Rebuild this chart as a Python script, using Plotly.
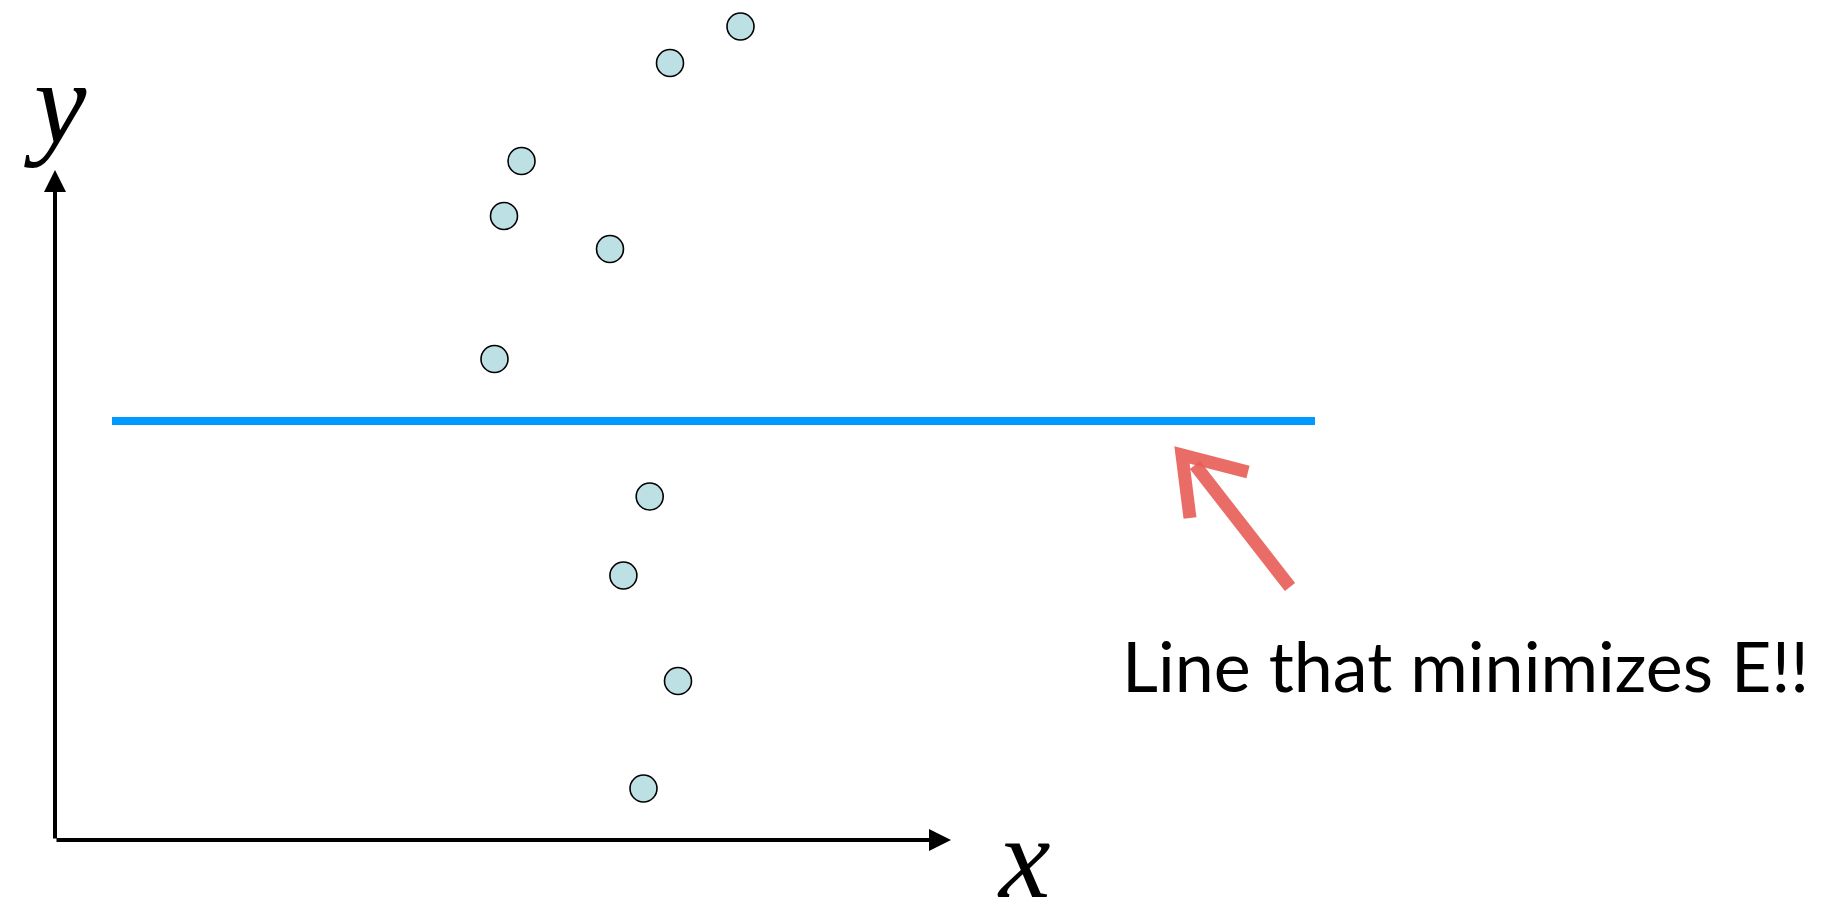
import plotly.graph_objects as go

# data points (arbitrary units, origin at the axes corner)
pts_x = [6.855, 6.15, 4.665, 4.49, 5.55, 4.395, 5.947, 5.684, 6.23, 5.885]
pts_y = [8.135, 7.77, 6.79, 6.24, 5.91, 4.81, 3.435, 2.645, 1.59, 0.515]

# the fitted horizontal line
line_x = [0.57, 12.6]
line_y = [4.19, 4.19]

# axis extents
x_axis_len = 8.96
y_axis_len = 6.7

# hand drawn red arrow (head and shaft)
head_x = [11.35, 11.27, 11.93]
head_y = [3.22, 3.85, 3.68]
shaft_x = [12.35, 11.40]
shaft_y = [2.53, 3.75]

label_text = "Line that minimizes E!!"

fig = go.Figure()

fig.add_trace(go.Scatter(x=line_x, y=line_y, mode="lines",
                         line=dict(color="#0099FF", width=8)))

for hx, hy in [(head_x, head_y), (shaft_x, shaft_y)]:
    fig.add_trace(go.Scatter(x=hx, y=hy, mode="lines",
                             line=dict(color="rgba(232,92,86,0.9)", width=13)))

fig.add_trace(go.Scatter(x=pts_x, y=pts_y, mode="markers",
                         marker=dict(size=27, color="#BCE0E3",
                                     line=dict(color="black", width=1.6))))

# axes drawn as arrows
fig.add_annotation(x=x_axis_len, y=0, ax=0, ay=0, axref="x", ayref="y",
                   xref="x", yref="y", text="", showarrow=True,
                   arrowhead=2, arrowsize=1.1, arrowwidth=4, arrowcolor="black")
fig.add_annotation(x=0, y=y_axis_len, ax=0, ay=0, axref="x", ayref="y",
                   xref="x", yref="y", text="", showarrow=True,
                   arrowhead=2, arrowsize=1.1, arrowwidth=4, arrowcolor="black")

fig.add_annotation(x=0, y=7.37, text="<i>y</i>", showarrow=False,
                   font=dict(family="Liberation Serif", size=118, color="black"))
fig.add_annotation(x=9.69, y=-0.18, text="<i>x</i>", showarrow=False,
                   font=dict(family="Liberation Serif", size=116, color="black"))
fig.add_annotation(x=10.65, y=1.75, text=label_text, showarrow=False,
                   xanchor="left",
                   font=dict(family="Lato", size=70, color="black"))

# page body has an 8px margin, so the figure is a little smaller
fig.update_xaxes(range=[-0.47, 17.68], visible=False)
fig.update_yaxes(range=[-0.58, 8.32], visible=False)
fig.update_layout(width=1815, height=890, showlegend=False,
                  margin=dict(l=0, r=0, t=0, b=0),
                  plot_bgcolor="white", paper_bgcolor="white")

fig.write_html("out.html")
